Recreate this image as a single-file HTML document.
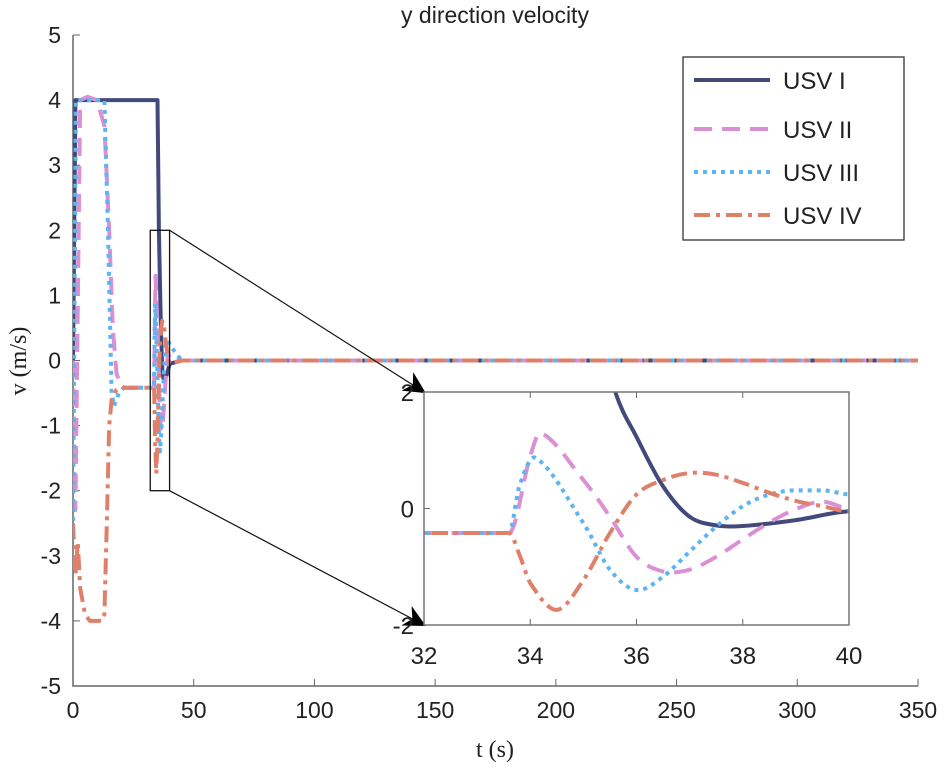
<!DOCTYPE html>
<html><head><meta charset="utf-8"><style>
body{margin:0;background:#fff}
svg{display:block}
text{font-family:"Liberation Sans",Arial,sans-serif;fill:#222}
</style></head><body>
<svg id="c" width="945" height="778" viewBox="0 0 945 778"></svg>
<script>
const xTicks=[0,50,100,150,200,250,300,350];
const yTicks=[5,4,3,2,1,0,-1,-2,-3,-4,-5];
const insetXTicks=[32,34,36,38,40];
const insetYTicks=[2,0,-2];
const seriesNames=["USV I","USV II","USV III","USV IV"];
const usv1T=[0,1,35,35.6,36,36.5,37,37.5,38,39,40,45,350];
const usv1V=[0,4,4,2,1.23,0.38,-0.14,-0.29,-0.3,-0.2,-0.05,0,0];
const usv2T=[0,1,3,6,10,13,15,16.5,18,20,22,33.6,34,34.2,35,35.5,36,36.5,37,37.5,38,38.5,39,39.5,40,45,350];
const usv2V=[0,-2.3,4,4.05,4,3.6,2,0.5,-0.2,-0.4,-0.42,-0.42,0.9,1.3,0.49,-0.14,-0.83,-1.08,-1.05,-0.83,-0.53,-0.24,-0.01,0.12,0,0,0];
const usv3T=[0,1.2,13,14.5,16,17,19,21,33.6,33.8,34.1,35,35.5,36,36.5,37,37.5,38,38.5,39,39.5,40,45,350];
const usv3V=[-2.6,4,4,2,-0.5,-0.7,-0.5,-0.42,-0.42,0.4,0.87,-0.25,-1.05,-1.4,-1.17,-0.74,-0.31,0.04,0.24,0.31,0.31,0.24,0,0];
const usv4T=[0,1,2,3,5,7,12,13,14,15,16,18,21,33.6,33.8,34,34.5,35,35.5,36,36.5,37,37.5,38,38.5,39,39.5,40,45,350];
const usv4V=[-2.5,-3.3,-2.8,-3.5,-3.9,-4,-4,-3.9,-2.5,-1,-0.6,-0.45,-0.42,-0.42,-0.8,-1.28,-1.74,-1.23,-0.42,0.24,0.49,0.61,0.58,0.44,0.27,0.13,0.04,-0.05,0,0];

const NS="http://www.w3.org/2000/svg";
const svg=document.getElementById('c');
function el(tag,attrs,parent){const e=document.createElementNS(NS,tag);for(const k in attrs)e.setAttribute(k,attrs[k]);(parent||svg).appendChild(e);return e;}
const X0=73,X1=918,Y0=686,Y1=35;
const sx=t=>X0+(t-0)/(350)*(X1-X0);
const sy=v=>Y0-(v+5)/10*(Y0-Y1);
const IX0=424,IX1=849,IY0=625,IY1=392;
const ix=t=>IX0+(t-32)/8*(IX1-IX0);
const iy=v=>IY0-(v+2)/4*(IY0-IY1);
const styles=[
 {c:"#424a7c",d:""},
 {c:"#dc90d4",d:"18 10"},
 {c:"#5cb4f0",d:"4 5"},
 {c:"#e0806a",d:"16 6 4 6"}];
const TS=[usv1T,usv2T,usv3T,usv4T],VS=[usv1V,usv2V,usv3V,usv4V];
const defs=el('defs',{});
const cp=el('clipPath',{id:'cpm'},defs);el('rect',{x:X0,y:Y1,width:X1-X0,height:Y0-Y1},cp);
const cpi=el('clipPath',{id:'cpi'},defs);el('rect',{x:IX0,y:IY1,width:IX1-IX0,height:IY0-IY1},cpi);

let t=el('text',{x:495,y:23,'text-anchor':'middle','font-size':23});t.textContent="y direction velocity";


let ax=el('path',{d:`M${X0},${Y1}V${Y0}H${X1}`,stroke:'#666',fill:'none','stroke-width':1.5});


xTicks.forEach(v=>{
 el('line',{x1:sx(v),x2:sx(v),y1:Y0,y2:Y0-7,stroke:'#666'});
 const tx=el('text',{x:sx(v),y:Y0+32,'text-anchor':'middle','font-size':23});tx.textContent=v;
 
 
});
yTicks.forEach(v=>{
 el('line',{x1:X0,x2:X0+7,y1:sy(v),y2:sy(v),stroke:'#666'});
 const tx=el('text',{x:X0-12,y:sy(v)+8,'text-anchor':'end','font-size':23});tx.textContent=v;
 
 
});
t=el('text',{x:495,y:757,'text-anchor':'middle','font-size':24,style:'font-family:"Liberation Serif",serif'});t.textContent="t (s)";


t=el('text',{x:0,y:0,'text-anchor':'middle','font-size':24,transform:'translate(26,361) rotate(-90)',style:'font-family:"Liberation Serif",serif'});t.textContent="v (m/s)";



function line(T,V,fx,fy,s,w,clip,name,smooth){
 const n=T.length;
 const slope=i=>{
  if(i===0) return (V[1]-V[0])/(T[1]-T[0]);
  if(i===n-1) return (V[n-1]-V[n-2])/(T[n-1]-T[n-2]);
  if(V[i]===V[i-1]||V[i]===V[i+1]) return 0;
  return (V[i+1]-V[i-1])/(T[i+1]-T[i-1]);
 };
 let d='M'+fx(T[0]).toFixed(1)+','+fy(V[0]).toFixed(1);
 for(let i=0;i<n-1;i++){
  if(smooth){
   const dt=T[i+1]-T[i],m1=slope(i),m2=slope(i+1);
   d+=`C${fx(T[i]+dt/3).toFixed(1)},${fy(V[i]+m1*dt/3).toFixed(1)} ${fx(T[i+1]-dt/3).toFixed(1)},${fy(V[i+1]-m2*dt/3).toFixed(1)} ${fx(T[i+1]).toFixed(1)},${fy(V[i+1]).toFixed(1)}`;
  } else d+='L'+fx(T[i+1]).toFixed(1)+','+fy(V[i+1]).toFixed(1);
 }
 const p=el('path',{d:d,stroke:s.c,fill:'none','stroke-width':w,'stroke-dasharray':s.d,'clip-path':clip,'stroke-linejoin':'round'});
 
 
}
[0,1,2,3].forEach(i=>line(TS[i],VS[i],sx,sy,styles[i],4,'url(#cpm)','series-usv-'+(i+1),false));

let zr=el('rect',{x:sx(32),y:sy(2),width:sx(40)-sx(32),height:sy(-2)-sy(2),fill:'none',stroke:'#111','stroke-width':1.3});


const mk=el('marker',{id:'ah',viewBox:'0 0 10 10',markerWidth:22,markerHeight:22,refX:9,refY:5,orient:'auto',markerUnits:'userSpaceOnUse'},defs);
el('path',{d:'M0,0L10,5L0,10L3,5Z',fill:'#000'},mk);
let a1=el('line',{x1:sx(40),y1:sy(2),x2:IX0,y2:IY1,stroke:'#111','stroke-width':1.2,'marker-end':'url(#ah)'});


let a2=el('line',{x1:sx(40),y1:sy(-2),x2:IX0,y2:IY0,stroke:'#111','stroke-width':1.2,'marker-end':'url(#ah)'});



const ig=el('g',{});


el('rect',{x:IX0,y:IY1,width:IX1-IX0,height:IY0-IY1,fill:'#fff'},ig);
insetXTicks.forEach(v=>{
 el('line',{x1:ix(v),x2:ix(v),y1:IY0,y2:IY0-6,stroke:'#666'},ig);
 el('line',{x1:ix(v),x2:ix(v),y1:IY1,y2:IY1+6,stroke:'#666'},ig);
 const tx=el('text',{x:ix(v),y:IY0+39,'text-anchor':'middle','font-size':24},ig);tx.textContent=v;
 
 
});
insetYTicks.forEach(v=>{
 el('line',{x1:IX0,x2:IX0+6,y1:iy(v),y2:iy(v),stroke:'#666'},ig);
 const tx=el('text',{x:IX0-10,y:iy(v)+9,'text-anchor':'end','font-size':24},ig);tx.textContent=v;
 
 
});
[0,1,2,3].forEach(i=>line(TS[i],VS[i],ix,iy,styles[i],4,'url(#cpi)','inset-series-usv-'+(i+1),true));
el('rect',{x:IX0,y:IY1,width:IX1-IX0,height:IY0-IY1,fill:'none',stroke:'#777','stroke-width':1.5});

const lg=el('g',{});


el('rect',{x:683,y:57,width:221,height:183,fill:'#fff',stroke:'#333','stroke-width':1.3},lg);
const ly=[80,129,172,215];
seriesNames.forEach((n,i)=>{
 const g=el('g',{},lg);
 
 
 el('line',{x1:694,x2:770,y1:ly[i],y2:ly[i],stroke:styles[i].c,'stroke-width':4,'stroke-dasharray':styles[i].d},g);
 const tx=el('text',{x:783,y:ly[i]+9,'font-size':24},g);tx.textContent=n;
});
</script>
</body></html>
